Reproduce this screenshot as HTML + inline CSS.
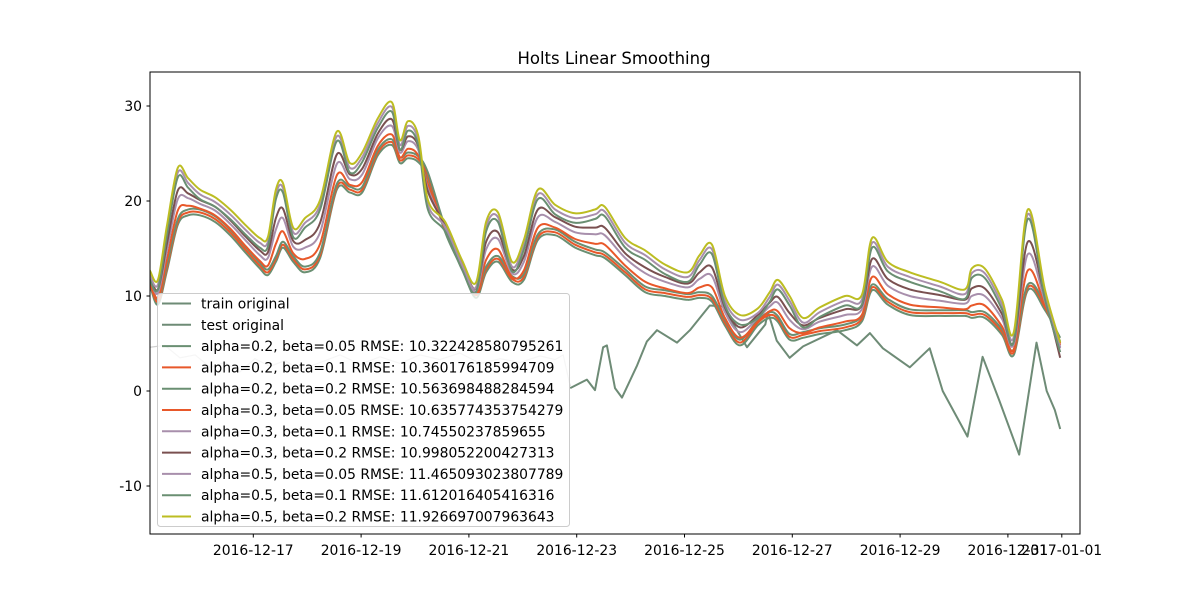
<!DOCTYPE html>
<html><head><meta charset="utf-8"><style>
body{margin:0;background:#fff;}
svg{display:block;font-family:"DejaVu Sans","Liberation Sans",sans-serif;}
</style></head><body>
<svg id="chart" width="1200" height="600" xmlns="http://www.w3.org/2000/svg">
<rect width="1200" height="600" fill="#fff"/>
<text x="614" y="64" font-size="16.5" text-anchor="middle">Holts Linear Smoothing</text>
<g id="plot"></g>
<rect x="150" y="72" width="930" height="462" fill="none" stroke="#000" stroke-width="1"/>
<g id="axes"></g>
<g id="legend"></g>
</svg>
<script>
const days=[15.08,15.23,15.40,15.60,15.79,16.01,16.29,16.57,16.85,17.12,17.27,17.42,17.55,17.74,17.96,18.24,18.55,18.79,19.02,19.31,19.57,19.72,19.87,20.06,20.24,20.56,20.87,21.13,21.32,21.54,21.80,22.02,22.28,22.60,22.97,23.34,23.52,23.90,24.27,24.64,25.06,25.28,25.51,25.75,26.03,26.36,26.58,26.73,26.95,27.20,27.51,27.98,28.29,28.48,28.77,29.18,29.74,30.20,30.33,30.57,30.89,31.11,31.37,31.69,31.97];
const a02b005=[11.2,9.1,12.7,17.5,18.5,18.5,17.8,16.4,14.6,12.9,12.2,13.6,15.1,13.6,12.5,14.0,21.2,20.9,20.9,24.8,25.9,24.0,24.5,24.1,22.4,16.7,12.9,9.8,12.5,13.6,11.5,11.7,15.9,16.4,15.1,14.3,14.0,12.2,10.4,10.0,9.6,9.8,9.4,6.9,4.8,6.9,7.7,7.3,5.4,5.6,6.0,6.4,7.3,10.6,9.1,8.0,7.9,7.9,7.7,7.7,5.9,3.8,10.6,8.5,5.6];
const a02b01=[11.5,9.4,13.0,17.8,18.8,18.8,18.1,16.7,14.9,13.2,12.5,13.9,15.4,13.9,12.8,14.3,21.5,21.2,21.2,25.1,26.2,24.3,24.8,24.4,22.7,17.0,13.2,10.1,12.8,13.9,11.8,12.0,16.2,16.7,15.4,14.6,14.3,12.5,10.7,10.3,9.9,10.1,9.7,7.2,5.1,7.2,8.0,7.6,5.7,5.9,6.3,6.7,7.6,10.9,9.4,8.3,8.2,8.2,8.0,8.0,6.2,4.1,10.9,8.8,5.0];
const a02b02=[11.8,9.7,13.3,18.1,19.1,19.1,18.4,17.0,15.2,13.5,12.8,14.2,15.7,14.2,13.1,14.6,21.8,21.5,21.5,25.4,26.5,24.6,25.1,24.7,23.0,17.3,13.5,10.4,13.1,14.2,12.1,12.3,16.5,17.0,15.7,14.9,14.6,12.8,11.0,10.6,10.2,10.4,10.0,7.5,5.4,7.5,8.3,7.9,6.0,6.2,6.6,7.0,7.9,11.2,9.7,8.6,8.5,8.5,8.3,8.3,6.5,4.4,11.2,9.1,5.2];
const a03b005=[11.6,9.8,13.9,19.0,19.5,19.2,18.5,17.1,15.3,13.7,13.2,15.5,16.8,14.5,13.9,15.5,22.7,21.7,22.0,25.8,27.0,24.6,25.5,24.8,21.8,17.0,13.1,10.2,13.8,14.9,12.0,12.7,17.2,17.2,16.0,15.5,15.4,13.2,11.5,10.8,10.3,10.9,10.9,7.7,5.6,7.3,8.4,8.4,6.6,6.1,6.7,7.3,8.0,12.0,10.2,9.1,8.8,8.6,9.0,9.0,6.8,4.4,12.7,9.0,4.8];
const a03b01=[11.9,10.3,14.9,20.2,20.3,19.7,19.0,17.6,15.9,14.3,14.0,17.0,18.2,15.2,15.1,16.7,23.9,22.3,22.8,26.6,27.9,25.1,26.3,25.4,21.3,17.2,13.3,10.5,14.9,16.0,12.4,13.6,18.3,17.8,16.7,16.5,16.4,14.0,12.4,11.5,10.9,11.8,12.1,8.3,6.2,7.7,8.9,9.3,7.5,6.5,7.3,8.0,8.6,13.1,11.1,10.0,9.5,9.2,10.0,10.0,7.6,4.9,14.4,9.4,4.5];
const a03b02=[12.1,10.7,15.6,21.1,20.8,20.1,19.4,18.0,16.3,14.8,14.6,18.2,19.2,15.8,15.9,17.7,24.9,22.8,23.4,27.1,28.6,25.4,26.8,25.8,21.0,17.4,13.4,10.8,15.7,16.7,12.8,14.2,19.1,18.3,17.3,17.2,17.2,14.5,13.0,12.0,11.3,12.5,13.0,8.8,6.7,8.0,9.3,9.9,8.2,6.9,7.7,8.6,9.0,13.9,11.8,10.7,10.1,9.6,10.8,10.8,8.1,5.2,15.7,9.8,3.5];
const a05b005=[12.2,11.2,17.0,23.0,21.9,20.7,19.9,18.6,17.0,15.6,15.7,20.7,21.4,16.7,17.7,19.6,26.8,23.5,24.6,28.2,29.9,25.9,27.9,26.4,19.6,17.3,13.3,10.9,17.3,18.3,13.1,15.4,20.7,19.1,18.2,18.6,18.9,15.6,14.3,12.8,12.0,13.8,14.9,9.5,7.5,8.2,9.9,11.2,9.5,7.2,8.3,9.5,9.6,15.6,13.1,12.0,11.0,10.2,12.4,12.4,9.1,5.7,18.6,10.1,4.6];
const a05b01=[11.7,10.7,16.5,22.5,21.4,20.2,19.4,18.1,16.5,15.1,15.2,20.2,20.9,16.2,17.2,19.1,26.3,23.0,24.1,27.7,29.4,25.4,27.4,25.9,19.1,16.8,12.8,10.4,16.8,17.8,12.6,14.9,20.2,18.6,17.7,18.1,18.4,15.1,13.8,12.3,11.5,13.3,14.4,9.0,7.0,7.7,9.4,10.7,9.0,6.7,7.8,9.0,9.1,15.1,12.6,11.5,10.5,9.7,11.9,11.9,8.6,5.2,18.1,9.6,4.1];
const a05b02=[12.7,11.7,17.5,23.5,22.4,21.2,20.4,19.1,17.5,16.1,16.2,21.2,21.9,17.2,18.2,20.1,27.3,24.0,25.1,28.7,30.4,26.4,28.4,26.9,20.1,17.8,13.8,11.4,17.8,18.8,13.6,15.9,21.2,19.6,18.7,19.1,19.4,16.1,14.8,13.3,12.5,14.3,15.4,10.0,8.0,8.7,10.4,11.7,10.0,7.7,8.8,10.0,10.1,16.1,13.6,12.5,11.5,10.7,12.9,12.9,9.6,6.2,19.1,10.6,5.1];
const trainDays=[15.08,15.36,15.64,15.92,16.20,16.47,16.75,17.03,17.31,17.59,17.87,18.24,18.61,18.98,19.35,19.72,20.09,20.46,20.83,21.21,21.58,21.95,22.32,22.60,22.75,22.88];
const trainVals=[4.6,4.8,3.5,3.8,2.5,3.0,2.0,3.4,2.6,3.2,2.2,3.0,3.8,2.8,3.6,2.9,3.8,3.3,4.0,2.9,3.4,3.0,3.7,3.3,3.8,0.5];
const testDays=[22.88,23.19,23.34,23.49,23.56,23.71,23.84,24.12,24.30,24.49,24.86,25.10,25.47,25.71,26.16,26.50,26.55,26.71,26.95,27.20,27.83,28.20,28.44,28.68,29.18,29.55,29.79,30.25,30.53,30.84,31.21,31.53,31.72,31.87,31.97];
const testVals=[0.3,1.2,0.1,4.6,4.8,0.3,-0.7,2.7,5.2,6.4,5.1,6.4,9.0,8.9,4.6,7.0,8.3,5.3,3.5,4.7,6.4,4.8,6.1,4.5,2.5,4.5,0.0,-4.8,3.6,-1.0,-6.7,5.1,0.0,-2.0,-4.0];
const yTicks=[-10,0,10,20,30];
const xTickDays=[17,19,21,23,25,27,29,31,32];
const xTickLabels=["2016-12-17","2016-12-19","2016-12-21","2016-12-23","2016-12-25","2016-12-27","2016-12-29","2016-12-31","2017-01-01"];

const NS="http://www.w3.org/2000/svg";
function X(d){return 253.3+(d-17)*53.9;}
function Y(v){return 391-v*9.5;}
function mk(t,a,p){const e=document.createElementNS(NS,t);for(const k in a)e.setAttribute(k,a[k]);p.appendChild(e);return e;}
const plot=document.getElementById('plot'),axes=document.getElementById('axes'),leg=document.getElementById('legend');
const series=[
 {n:"alpha=0.2, beta=0.05 RMSE: 10.322428580795261",v:a02b005,c:"#6a8f72",id:"a02-b005"},
 {n:"alpha=0.2, beta=0.1 RMSE: 10.360176185994709",v:a02b01,c:"#e8582a",id:"a02-b01"},
 {n:"alpha=0.2, beta=0.2 RMSE: 10.563698488284594",v:a02b02,c:"#6a8f72",id:"a02-b02"},
 {n:"alpha=0.3, beta=0.05 RMSE: 10.635774353754279",v:a03b005,c:"#e8582a",id:"a03-b005"},
 {n:"alpha=0.3, beta=0.1 RMSE: 10.74550237859655",v:a03b01,c:"#a88fac",id:"a03-b01"},
 {n:"alpha=0.3, beta=0.2 RMSE: 10.998052200427313",v:a03b02,c:"#7a5050",id:"a03-b02"},
 {n:"alpha=0.5, beta=0.05 RMSE: 11.465093023807789",v:a05b005,c:"#a88fac",id:"a05-b005"},
 {n:"alpha=0.5, beta=0.1 RMSE: 11.612016405416316",v:a05b01,c:"#6a8f72",id:"a05-b01"},
 {n:"alpha=0.5, beta=0.2 RMSE: 11.926697007963643",v:a05b02,c:"#bcbd22",id:"a05-b02"}];
function pts(ds,vs){return ds.map((d,i)=>X(d).toFixed(1)+","+Y(vs[i]).toFixed(1)).join(" ");}
function smooth(ds,vs){
 const p=ds.map((d,i)=>[X(d),Y(vs[i])]);
 let s="M"+p[0][0].toFixed(1)+","+p[0][1].toFixed(1);
 for(let i=0;i<p.length-1;i++){
  const p0=p[i-1]||p[i],p1=p[i],p2=p[i+1],p3=p[i+2]||p2;
  const c1=[p1[0]+(p2[0]-p0[0])/6,p1[1]+(p2[1]-p0[1])/6];
  const c2=[p2[0]-(p3[0]-p1[0])/6,p2[1]-(p3[1]-p1[1])/6];
  s+=" C"+c1[0].toFixed(1)+","+c1[1].toFixed(1)+" "+c2[0].toFixed(1)+","+c2[1].toFixed(1)+" "+p2[0].toFixed(1)+","+p2[1].toFixed(1);
 }
 return s;
}
const clip=mk('clipPath',{id:'cp'},plot);mk('rect',{x:150,y:72,width:930,height:462},clip);
const tr=mk('polyline',{points:pts(trainDays,trainVals),fill:'none',stroke:'#cfcfcf','stroke-width':1.2,'clip-path':'url(#cp)'},plot);


const te=mk('polyline',{points:pts(testDays,testVals),fill:'none',stroke:'#6e8b76','stroke-width':2,'stroke-linejoin':'round','clip-path':'url(#cp)'},plot);


series.forEach(s=>{
 const l=mk('path',{d:smooth(days,s.v),fill:'none',stroke:s.c,'stroke-width':2,'stroke-linejoin':'round','clip-path':'url(#cp)'},plot);
 
 
});
yTicks.forEach(v=>{
 mk('line',{x1:146.5,x2:150,y1:Y(v),y2:Y(v),stroke:'#000'},axes);
 const t=mk('text',{x:142,y:Y(v)+5,'font-size':13.9,'text-anchor':'end'},axes);t.textContent=v;
 
 
});
xTickDays.forEach((d,i)=>{
 mk('line',{x1:X(d),x2:X(d),y1:534,y2:537.5,stroke:'#000'},axes);
 const t=mk('text',{x:X(d),y:555,'font-size':13.9,'text-anchor':'middle'},axes);t.textContent=xTickLabels[i];
 
 
});
const box=mk('rect',{x:157.5,y:293.5,width:412,height:233,rx:3,fill:'#fff','fill-opacity':0.8,stroke:'#ccc'},leg);


const entries=[{n:"train original",c:"#6e8b76"},{n:"test original",c:"#6e8b76"}].concat(series);
entries.forEach((e,i)=>{
 const y=303.5+i*21.3;
 const g=mk('g',{},leg);
 
 
 mk('line',{x1:162,x2:191,y1:y,y2:y,stroke:e.c,'stroke-width':2},g);
 const t=mk('text',{x:201,y:y+5,'font-size':13.9},g);t.textContent=e.n;
});
</script>
</body></html>
